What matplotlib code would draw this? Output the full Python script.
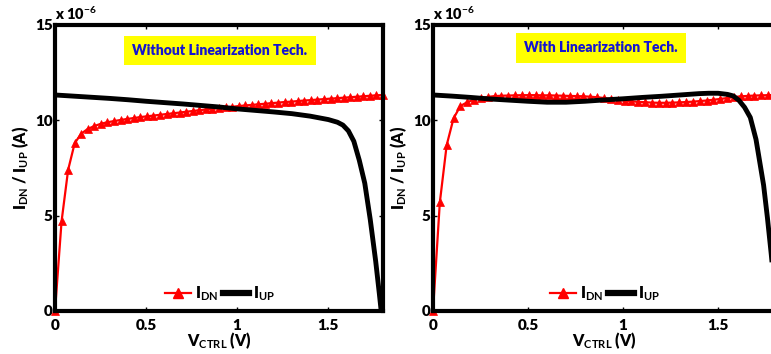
import numpy as np
import matplotlib
matplotlib.use("Agg")
import matplotlib.pyplot as plt
from matplotlib.lines import Line2D

plt.rcParams['font.family'] = ['Lato', 'DejaVu Sans']
plt.rcParams['font.weight'] = 'bold'
plt.rcParams['mathtext.fontset'] = 'custom'
plt.rcParams['mathtext.rm'] = 'Lato:bold'
plt.rcParams['mathtext.bf'] = 'Lato:bold'
plt.rcParams['mathtext.it'] = 'Lato:bold'

# ---- data (currents in units of 1e-6 A) ----
v_dn = [0.000, 0.036, 0.072, 0.108, 0.144, 0.180, 0.216, 0.252, 0.288, 0.324,
        0.360, 0.396, 0.432, 0.468, 0.504, 0.540, 0.576, 0.612, 0.648, 0.684,
        0.720, 0.756, 0.792, 0.828, 0.864, 0.900, 0.936, 0.972, 1.008, 1.044,
        1.080, 1.116, 1.152, 1.188, 1.224, 1.260, 1.296, 1.332, 1.368, 1.404,
        1.440, 1.476, 1.512, 1.548, 1.584, 1.620, 1.656, 1.692, 1.728, 1.764,
        1.800]

idn_without = [0.0, 4.7, 7.4, 8.8, 9.3, 9.55, 9.70, 9.82, 9.90, 9.96,
               10.02, 10.07, 10.12, 10.17, 10.21, 10.25, 10.29, 10.33, 10.37, 10.41,
               10.45, 10.49, 10.53, 10.57, 10.61, 10.64, 10.68, 10.71, 10.75, 10.78,
               10.81, 10.84, 10.87, 10.90, 10.93, 10.96, 10.98, 11.01, 11.04, 11.06,
               11.09, 11.11, 11.14, 11.16, 11.19, 11.21, 11.24, 11.26, 11.29, 11.31,
               11.33]

v_up_without = [0, 0.1, 0.2, 0.3, 0.4, 0.5, 0.6, 0.7, 0.8, 0.9, 1.0, 1.1, 1.2,
                1.3, 1.4, 1.45, 1.5, 1.55, 1.58, 1.61, 1.64, 1.67, 1.7, 1.73,
                1.76, 1.78, 1.79]
iup_without = [11.33, 11.27, 11.21, 11.15, 11.08, 11.0, 10.93, 10.86, 10.78,
               10.70, 10.6, 10.52, 10.44, 10.35, 10.22, 10.13, 10.04, 9.9, 9.75,
               9.45, 8.9, 7.9, 6.7, 4.8, 2.6, 0.9, 0.0]

idn_with = [0.0, 5.7, 8.7, 10.1, 10.75, 10.95, 11.08, 11.17, 11.23, 11.27,
            11.29, 11.30, 11.31, 11.32, 11.32, 11.32, 11.31, 11.31, 11.30, 11.29,
            11.28, 11.27, 11.26, 11.24, 11.21, 11.17, 11.12, 11.07, 11.03, 11.00,
            10.97, 10.95, 10.93, 10.92, 10.92, 10.93, 10.94, 10.96, 10.98, 11.01,
            11.04, 11.08, 11.12, 11.17, 11.22, 11.26, 11.28, 11.30, 11.31, 11.32,
            11.33]

v_up_with = [0, 0.1, 0.2, 0.3, 0.4, 0.5, 0.6, 0.7, 0.8, 0.9, 1.0, 1.1, 1.2,
             1.3, 1.4, 1.45, 1.5, 1.55, 1.58, 1.61, 1.64, 1.67, 1.7, 1.72,
             1.74, 1.76, 1.78, 1.8]
iup_with = [11.33, 11.27, 11.2, 11.12, 11.06, 11.0, 10.95, 10.95, 11.0, 11.07,
            11.13, 11.2, 11.26, 11.33, 11.4, 11.42, 11.42, 11.36, 11.28, 11.05,
            10.68, 10.15, 9.0, 7.8, 6.6, 4.9, 3.0, 0.9]

xticks = [0, 0.5, 1, 1.5]
xtick_labels = ['0', '0.5', '1', '1.5']
yticks = [0, 5, 10, 15]
ytick_labels = ['0', '5', '10', '15']
titles = ['Without Linearization Tech.', 'With Linearization Tech.']

W, H = 771, 354
fig = plt.figure(figsize=(W / 100, H / 100), dpi=100)

axes_px = [(55, 25, 328, 286), (433, 25, 342, 286)]
panels = [(idn_without, v_up_without, iup_without, 0.503, 0.911),
          (idn_with, v_up_with, iup_with, 0.491, 0.92)]

for (x0, y0, w, h), (idn, vup, iup, tx, ty), title in zip(axes_px, panels, titles):
    ax = fig.add_axes([x0 / W, 1 - (y0 + h) / H, w / W, h / H])
    ax.plot(v_dn, idn, color='#FF0000', lw=1.6, marker='^', markersize=6,
            markeredgewidth=0.5, zorder=3, clip_on=False)
    ax.plot(vup, iup, color='black', lw=3.5, zorder=4, solid_capstyle='butt')
    ax.set_xlim(0, 1.8)
    ax.set_ylim(0, 15)
    ax.set_xticks(xticks)
    ax.set_xticklabels(xtick_labels)
    ax.set_yticks(yticks)
    ax.set_yticklabels(ytick_labels)
    ax.tick_params(direction='in', length=3, width=1, top=True, right=True,
                   labelsize=11)
    ax.tick_params(axis='x', pad=5.5)
    ax.tick_params(axis='y', pad=1.5)
    for lab in ax.get_xticklabels() + ax.get_yticklabels():
        lab.set_fontweight('heavy')
    for s in ax.spines.values():
        s.set_linewidth(3)
        s.set_zorder(5)
    ax.set_xlabel(r'V$_{\mathbf{CTRL}}$ (V)', fontsize=11.5, fontweight='heavy',
                  labelpad=-1)
    ax.set_ylabel(r'I$_{\mathbf{DN}}$ / I$_{\mathbf{UP}}$ (A)', fontsize=11.5,
                  fontweight='heavy', labelpad=3)
    ax.text(0.0, 1.012, r'x 10$^{\mathbf{-6}}$', transform=ax.transAxes,
            fontsize=10.5, fontweight='heavy', ha='left', va='bottom')
    ax.text(tx, ty, title, transform=ax.transAxes, ha='center', va='center',
            fontsize=10, fontweight='heavy', color='#1414D2',
            bbox=dict(facecolor='#FFFF00', edgecolor='none',
                      boxstyle='square,pad=0.6'), zorder=6)
    handles = [Line2D([], [], color='#FF0000', lw=1.6, marker='^', markersize=7),
               Line2D([], [], color='black', lw=4.5)]
    ax.legend(handles, [r'I$_{\mathbf{DN}}$', r'I$_{\mathbf{UP}}$'],
              loc='center', bbox_to_anchor=(0.503, 0.06), ncol=2, frameon=False,
              handlelength=1.6, handletextpad=0.25,
              columnspacing=0.3, numpoints=1, borderaxespad=0,
              prop={'weight': 'heavy', 'size': 11.5})

fig.savefig('out.png', dpi=100)
